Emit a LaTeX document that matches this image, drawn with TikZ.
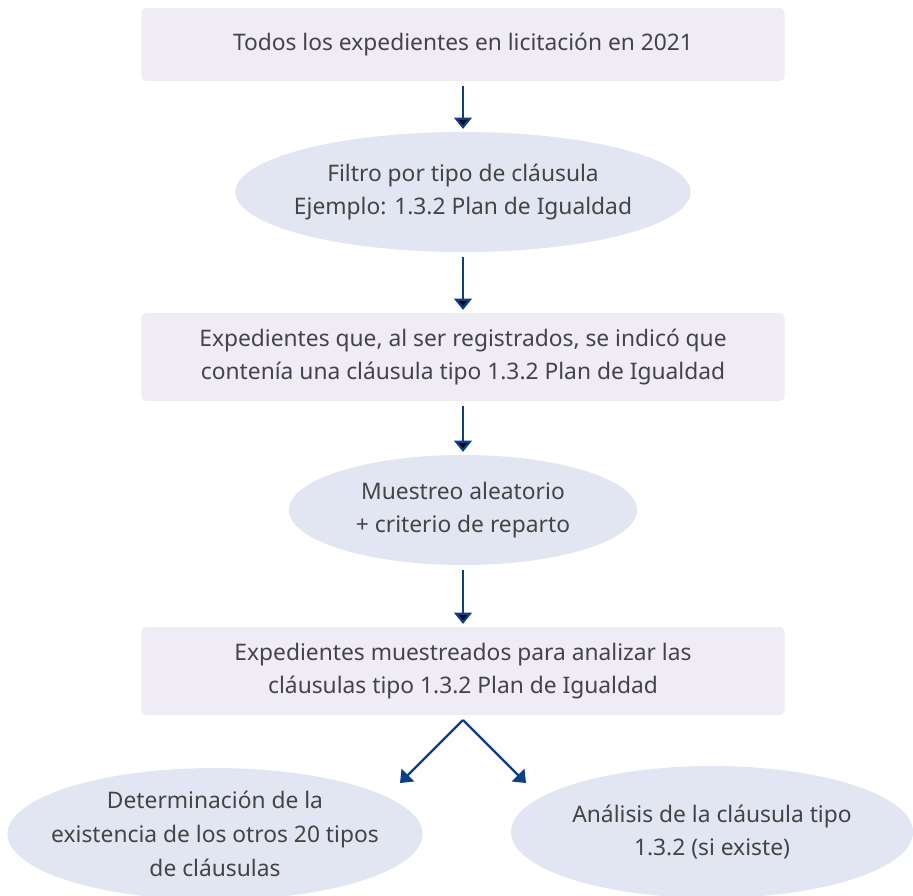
\documentclass[tikz,border=0pt]{standalone}
\usepackage{fontspec}
\setmainfont{Noto Sans}
\usetikzlibrary{arrows.meta,shapes.geometric}

\definecolor{boxfill}{HTML}{F0ECF6}
\definecolor{blobfill}{HTML}{E1E6F2}
\definecolor{flowblue}{HTML}{0A4089}
\definecolor{textgray}{HTML}{444444}

\begin{document}
\begin{tikzpicture}[x=0.025cm,y=-0.025cm,
  >={Triangle[width=12.5pt,length=8pt]},
  stage box/.style={rectangle,fill=boxfill,rounded corners=3.5pt,
    minimum width=16.075cm,align=center,text=textgray,
    font=\fontsize{16.2}{24}\selectfont},
  blob/.style={ellipse,fill=blobfill,inner sep=0pt},
  blob text/.style={align=center,text=textgray,
    font=\fontsize{16.2}{24}\selectfont},
  flow/.style={->,draw=flowblue,line width=1.6pt,shorten <=3pt,shorten >=2pt}]

  \useasboundingbox (0,0) rectangle (913,895);

  % boxes and ellipses
  \node[stage box,minimum height=1.825cm] (todos) at (463,44.5)
    {Todos los expedientes en licitación en 2021};
  \node[blob,minimum width=11.375cm,minimum height=3cm] (filtro) at (463,192) {};
  \node[blob text] at (filtro) {Filtro por tipo de cláusula\\Ejemplo: 1.3.2 Plan de Igualdad};
  \node[stage box,minimum height=2.2cm] (registrados) at (463,357)
    {Expedientes que, al ser registrados, se indicó que\\contenía una cláusula tipo 1.3.2 Plan de Igualdad};
  \node[blob,minimum width=8.7cm,minimum height=2.75cm] (muestreo) at (463,510) {};
  \node[blob text] at (muestreo) {Muestreo aleatorio\\+ criterio de reparto};
  \node[stage box,minimum height=2.2cm] (muestreados) at (463,671)
    {Expedientes muestreados para analizar las\\cláusulas tipo 1.3.2 Plan de Igualdad};
  \node[blob,minimum width=10.375cm,minimum height=3.3cm] (existencia) at (215,834) {};
  \node[blob text] at (existencia) {Determinación de la\\existencia de los otros 20 tipos\\de cláusulas};
  \node[blob,minimum width=10.05cm,minimum height=3.3cm] (analisis) at (712,832) {};
  \node[blob text] at (analisis) {Análisis de la cláusula tipo\\1.3.2 (si existe)};

  % arrow ends of the split
  \coordinate (split) at (463,720);
  \coordinate (left tip) at (400,783);
  \coordinate (right tip) at (526,783);

  \path[flow]
    (todos) edge (filtro)
    (filtro) edge (registrados)
    (registrados) edge (muestreo)
    (muestreo) edge (muestreados);
  \draw[flow,shorten <=0pt,shorten >=0pt] (split) -- (left tip);
  \draw[flow,shorten <=0pt,shorten >=0pt] (split) -- (right tip);
\end{tikzpicture}
\end{document}
